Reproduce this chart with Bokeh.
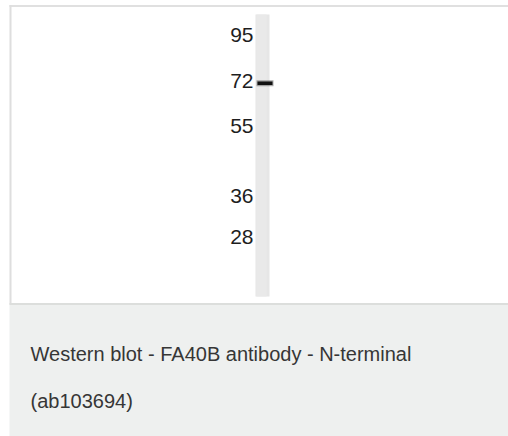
import math
from bokeh.plotting import figure
from bokeh.models import Range1d, LinearScale
from bokeh.core.properties import value
from bokeh.embed import file_html
from bokeh.resources import INLINE

# Data: molecular weight markers (kDa) and detected band
marker_kda = [95, 72, 55, 36, 28]
marker_labels = ["95", "72", "55", "36", "28"]
band_kda = [71]
caption_lines = ["Western blot - FA40B antibody - N-terminal", "(ab103694)"]

W, H = 508, 436
# log MW scale calibration (pixels per ln-unit, reference point)
PX_PER_LN, REF_Y, REF_LN = 165.6, 134.4, 3.9508
MW_TOP = math.exp(REF_LN + REF_Y / PX_PER_LN)
MW_BOT = math.exp(REF_LN - (H - REF_Y) / PX_PER_LN)

p = figure(width=W, height=H, output_backend="svg", toolbar_location=None,
           x_range=Range1d(0, W), y_range=Range1d(MW_BOT, MW_TOP),
           y_axis_type="log", min_border=0)
p.extra_y_ranges = {"page": Range1d(H, 0)}
p.extra_y_scales = {"page": LinearScale()}
p.axis.visible = False
p.grid.visible = False
p.outline_line_color = None
p.background_fill_color = "white"
p.border_fill_color = "white"

# caption panel
p.quad(left=[9], right=[W], top=[304], bottom=[H], y_range_name="page",
       fill_color="#eef0ef", line_color=None)
# borders of the image box
p.quad(left=[9], right=[W], top=[4.5], bottom=[6.5], y_range_name="page",
       fill_color="#e0e0e0", line_color=None)
p.quad(left=[9], right=[11], top=[4.5], bottom=[304], y_range_name="page",
       fill_color="#dedede", line_color=None)
p.quad(left=[9], right=[W], top=[302.5], bottom=[304.5], y_range_name="page",
       fill_color="#dcdedc", line_color=None)

# lane
p.quad(left=[255], right=[269], top=[14], bottom=[296], y_range_name="page",
       fill_color="#e6e6e6", line_color=None)
p.quad(left=[256], right=[266], top=[14], bottom=[296], y_range_name="page",
       fill_color="#e9e9e9", line_color=None)

# band (soft edge + core)
p.rect(x=[264.5] * len(band_kda), y=band_kda, width=17, height=6, height_units="screen",
       fill_color="#555555", fill_alpha=0.5, line_color=None)
p.rect(x=[264.5] * len(band_kda), y=band_kda, width=15, height=3.5, height_units="screen",
       fill_color="#111111", line_color=None)

# marker labels
p.text(x=[253] * len(marker_kda), y=marker_kda, text=marker_labels,
       text_align="right", text_baseline="middle", text_font=value("Liberation Sans"),
       text_font_size="21px", text_color="#1e1e1e")

# caption
p.text(x=[30, 30], y=[353, 400], text=caption_lines, y_range_name="page",
       text_align="left", text_baseline="alphabetic", text_font=value("Liberation Sans"),
       text_font_size="20px", text_color="#363636")

open("out.html", "w").write(file_html(p, INLINE))
